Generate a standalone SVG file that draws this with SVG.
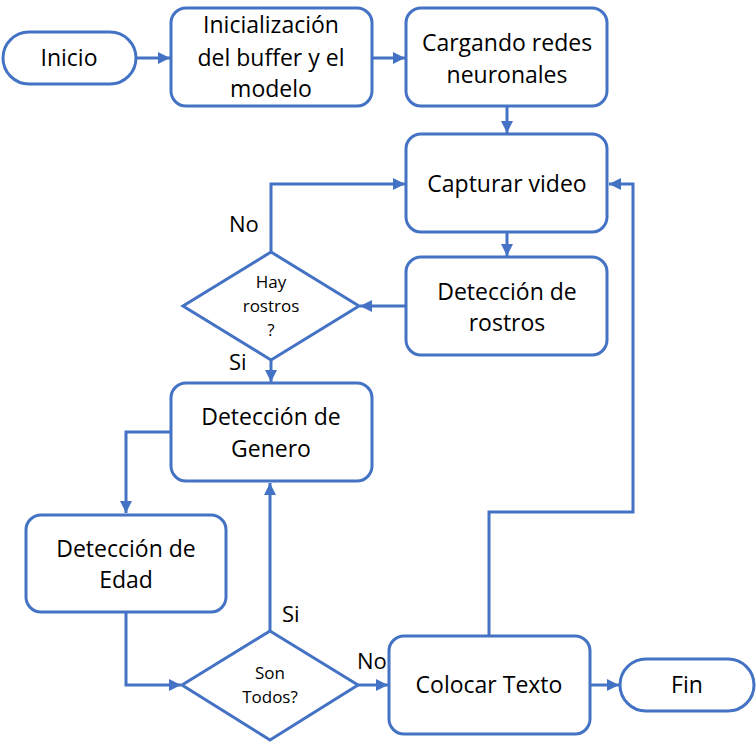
<svg xmlns="http://www.w3.org/2000/svg" width="756" height="743" viewBox="0 0 756 743">
<defs>
<style>
.box{fill:#fff;stroke:#4472C4;stroke-width:3}
.ln{fill:none;stroke:#4472C4;stroke-width:3}
.t{font-family:"Open Sans","Liberation Sans",sans-serif;font-size:23px;fill:#000;text-anchor:middle}
.s{font-family:"Open Sans","Liberation Sans",sans-serif;font-size:17px;fill:#000;text-anchor:middle}
.l{font-family:"Open Sans","Liberation Sans",sans-serif;font-size:22px;fill:#000}
</style>
<marker id="ah" viewBox="0 0 10 10" refX="10" refY="5" markerWidth="4" markerHeight="4" orient="auto" markerUnits="strokeWidth">
<path d="M0,0 L10,5 L0,10 z" fill="#4472C4"/>
</marker>
</defs>
<rect width="756" height="743" fill="#fff"/>
<g id="connectors">
<path class="ln" d="M136,58 L170,58" marker-end="url(#ah)"/>
<path class="ln" d="M372,58 L405,58" marker-end="url(#ah)"/>
<path class="ln" d="M507,107 L507,133" marker-end="url(#ah)"/>
<path class="ln" d="M507,232 L507,256" marker-end="url(#ah)"/>
<path class="ln" d="M406,306 L360,306" marker-end="url(#ah)"/>
<path class="ln" d="M271,252 L271,184 L405,184" marker-end="url(#ah)"/>
<path class="ln" d="M271,360 L271,382" marker-end="url(#ah)"/>
<path class="ln" d="M170,432 L126,432 L126,513" marker-end="url(#ah)"/>
<path class="ln" d="M126,613 L126,685 L181,685" marker-end="url(#ah)"/>
<path class="ln" d="M270,631 L270,483" marker-end="url(#ah)"/>
<path class="ln" d="M358,685 L388,685" marker-end="url(#ah)"/>
<path class="ln" d="M489,636 L489,512 L633,512 L633,184 L609,184" marker-end="url(#ah)"/>
<path class="ln" d="M591,685 L619,685" marker-end="url(#ah)"/>
</g>
<g id="inicio">
<rect class="box" x="3" y="32" width="133" height="52" rx="26"/>
<text class="t" x="69" y="66">Inicio</text>
</g>
<g id="init">
<rect class="box" x="171" y="8" width="201" height="98" rx="15"/>
<text class="t" x="271" y="33">Inicialización</text>
<text class="t" x="271" y="66">del buffer y el</text>
<text class="t" x="271" y="97">modelo</text>
</g>
<g id="cargando">
<rect class="box" x="406" y="8" width="201" height="98" rx="15"/>
<text class="t" x="507" y="51">Cargando redes</text>
<text class="t" x="507" y="83">neuronales</text>
</g>
<g id="capturar">
<rect class="box" x="406" y="134" width="201" height="98" rx="15"/>
<text class="t" x="507" y="192">Capturar video</text>
</g>
<g id="rostros">
<rect class="box" x="406" y="257" width="201" height="98" rx="15"/>
<text class="t" x="507" y="300">Detección de</text>
<text class="t" x="507" y="331">rostros</text>
</g>
<g id="hay">
<polygon class="box" points="271,252 359,306 271,360 183,306"/>
<text class="s" x="271" y="288">Hay</text>
<text class="s" x="271" y="312">rostros</text>
<text class="s" x="271" y="336">?</text>
</g>
<g id="genero">
<rect class="box" x="171" y="383" width="201" height="98" rx="15"/>
<text class="t" x="271" y="425">Detección de</text>
<text class="t" x="271" y="457">Genero</text>
</g>
<g id="edad">
<rect class="box" x="26" y="515" width="200" height="97" rx="15"/>
<text class="t" x="126" y="557">Detección de</text>
<text class="t" x="126" y="588">Edad</text>
</g>
<g id="todos">
<polygon class="box" points="270,631 358,685 270,740 182,685"/>
<text class="s" x="270" y="679">Son</text>
<text class="s" x="270" y="703">Todos?</text>
</g>
<g id="colocar">
<rect class="box" x="389" y="636" width="201" height="98" rx="15"/>
<text class="t" x="489" y="693">Colocar Texto</text>
</g>
<g id="fin">
<rect class="box" x="620" y="659" width="134" height="52" rx="26"/>
<text class="t" x="687" y="693">Fin</text>
</g>
<g id="labels">
<text class="l" x="229" y="232">No</text>
<text class="l" x="229" y="370">Si</text>
<text class="l" x="282" y="622">Si</text>
<text class="l" x="357" y="669">No</text>
</g>
</svg>
